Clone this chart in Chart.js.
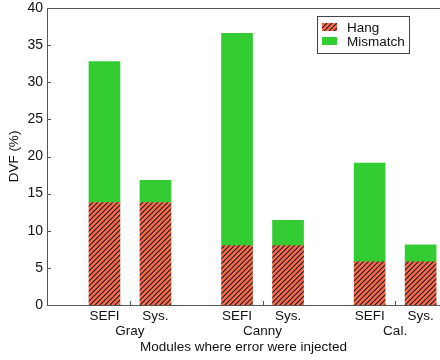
<!DOCTYPE html>
<html>
<head>
<meta charset="utf-8">
<script src="https://cdn.jsdelivr.net/npm/chart.js@4.4.0/dist/chart.umd.min.js"></script>
<style>
  html, body { margin: 0; padding: 0; background: #fff; }
  #wrap { width: 440px; height: 360px; }
</style>
</head>
<body>
<div id="wrap"><canvas id="dvfChart" width="440" height="360"></canvas></div>
<script>
// Data
const groups = ['Gray', 'Canny', 'Cal.'];
const barLabels = ['SEFI', 'Sys.', 'SEFI', 'Sys.', 'SEFI', 'Sys.'];
const hangValues = [13.8, 13.8, 8.0, 8.0, 5.8, 5.8];
const mismatchValues = [19.0, 3.0, 28.6, 3.4, 13.3, 2.3];
const yTicks = [0, 5, 10, 15, 20, 25, 30, 35, 40];

// layout: two bars per group, groups spaced a bit wider
const groupStride = 2.6;
const slotOf = (i) => Math.floor(i / 2) * groupStride + (i % 2);
const groupCenter = (g) => g * groupStride + 0.5;

const fontFamily = '"Liberation Sans", Arial, sans-serif';
const fontSize = 13.5;
const axisColor = '#555';

// hatched fill for "Hang"
function makeHatch() {
  const c = document.createElement('canvas');
  c.width = 5; c.height = 5;
  const g = c.getContext('2d');
  g.fillStyle = '#fb6a4a';
  g.fillRect(0, 0, 5, 5);
  g.strokeStyle = '#1a1a1a';
  g.lineWidth = 1.1;
  g.beginPath();
  g.moveTo(-1, 6); g.lineTo(6, -1);
  g.moveTo(-1, 1); g.lineTo(1, -1);
  g.moveTo(4, 6); g.lineTo(6, 4);
  g.stroke();
  return g.createPattern(c, 'repeat');
}
const hatch = makeHatch();

// frame, inward ticks and the legend box
const decor = {
  id: 'decor',
  afterDraw(chart) {
    const ctx = chart.ctx;
    const a = chart.chartArea;
    const y = chart.scales.y, x = chart.scales.x;
    ctx.save();
    ctx.strokeStyle = axisColor;
    ctx.lineWidth = 1;
    ctx.beginPath();
    ctx.moveTo(a.left + 0.5, a.bottom + 0.5);
    ctx.lineTo(a.left + 0.5, a.top + 0.5);
    ctx.lineTo(chart.width, a.top + 0.5);
    ctx.moveTo(a.left, a.bottom + 0.5);
    ctx.lineTo(chart.width, a.bottom + 0.5);
    yTicks.forEach(v => {
      const py = Math.round(y.getPixelForValue(v)) + 0.5;
      ctx.moveTo(a.left, py);
      ctx.lineTo(a.left + 4, py);
    });
    groups.forEach((_, g) => {
      const px = Math.round(x.getPixelForValue(groupCenter(g))) + 0.5;
      ctx.moveTo(px, a.bottom);
      ctx.lineTo(px, a.bottom - 4);
    });
    ctx.stroke();

    // legend
    const lx = 317, ly = 16, lw = 92, lh = 37;
    ctx.fillStyle = '#fff';
    ctx.fillRect(lx, ly, lw, lh);
    ctx.strokeStyle = '#444';
    ctx.strokeRect(lx + 0.5, ly + 0.5, lw, lh);
    ctx.font = fontSize + 'px ' + fontFamily;
    ctx.textBaseline = 'middle';
    chart.data.datasets.forEach((ds, i) => {
      const ry = ly + 11 + i * 14;
      ctx.fillStyle = ds.backgroundColor;
      ctx.fillRect(lx + 5, ry - 4, 15, 8);
      ctx.fillStyle = '#111';
      ctx.fillText(ds.label, lx + 30, ry + 1);
    });
    ctx.restore();
  }
};

const noGrid = { display: false, drawTicks: false, tickLength: 0 };

const ctx = document.getElementById('dvfChart').getContext('2d');
new Chart(ctx, {
  type: 'bar',
  data: {
    datasets: [
      {
        label: 'Hang',
        data: hangValues.map((v, i) => ({ x: slotOf(i), y: v })),
        backgroundColor: hatch,
        borderWidth: 0,
        barThickness: 31
      },
      {
        label: 'Mismatch',
        data: mismatchValues.map((v, i) => ({ x: slotOf(i), y: v })),
        backgroundColor: '#33cc33',
        borderWidth: 0,
        barThickness: 31
      }
    ]
  },
  plugins: [decor],
  options: {
    responsive: false,
    animation: false,
    layout: { padding: { top: 0, right: 0, left: 0, bottom: 5 } },
    plugins: {
      legend: { display: false },
      tooltip: { enabled: false }
    },
    scales: {
      x: {
        type: 'linear',
        stacked: true,
        offset: false,
        min: -1.127,
        max: 6.58,
        grid: noGrid,
        border: { display: false },
        afterBuildTicks: (s) => { s.ticks = barLabels.map((_, i) => ({ value: slotOf(i) })); },
        afterFit: (s) => { s.height = 18; },
        ticks: {
          autoSkip: false,
          maxRotation: 0,
          padding: 3,
          color: '#111',
          font: { family: fontFamily, size: fontSize },
          callback: (v, i) => barLabels[i]
        }
      },
      xGroup: {
        type: 'linear',
        position: 'bottom',
        offset: false,
        min: -1.127,
        max: 6.58,
        weight: 1,
        grid: noGrid,
        border: { display: false },
        afterBuildTicks: (s) => { s.ticks = groups.map((_, g) => ({ value: groupCenter(g) })); },
        afterFit: (s) => { s.height = 32; },
        ticks: {
          autoSkip: false,
          maxRotation: 0,
          padding: 0,
          color: '#111',
          font: { family: fontFamily, size: fontSize },
          callback: (v, i) => groups[i]
        },
        title: {
          display: true,
          text: 'Modules where error were injected',
          color: '#111',
          padding: 0,
          font: { family: fontFamily, size: fontSize }
        }
      },
      y: {
        stacked: true,
        min: 0,
        max: 40,
        grid: noGrid,
        border: { display: false },
        afterBuildTicks: (s) => { s.ticks = yTicks.map(v => ({ value: v })); },
        afterFit: (s) => { s.width = 47; s.paddingTop = 8; },
        ticks: {
          padding: 4,
          color: '#111',
          font: { family: fontFamily, size: 14 }
        },
        title: {
          display: true,
          text: 'DVF (%)',
          color: '#111',
          padding: { top: 6, bottom: 0 },
          font: { family: fontFamily, size: fontSize }
        }
      }
    }
  }
});
</script>
</body>
</html>
